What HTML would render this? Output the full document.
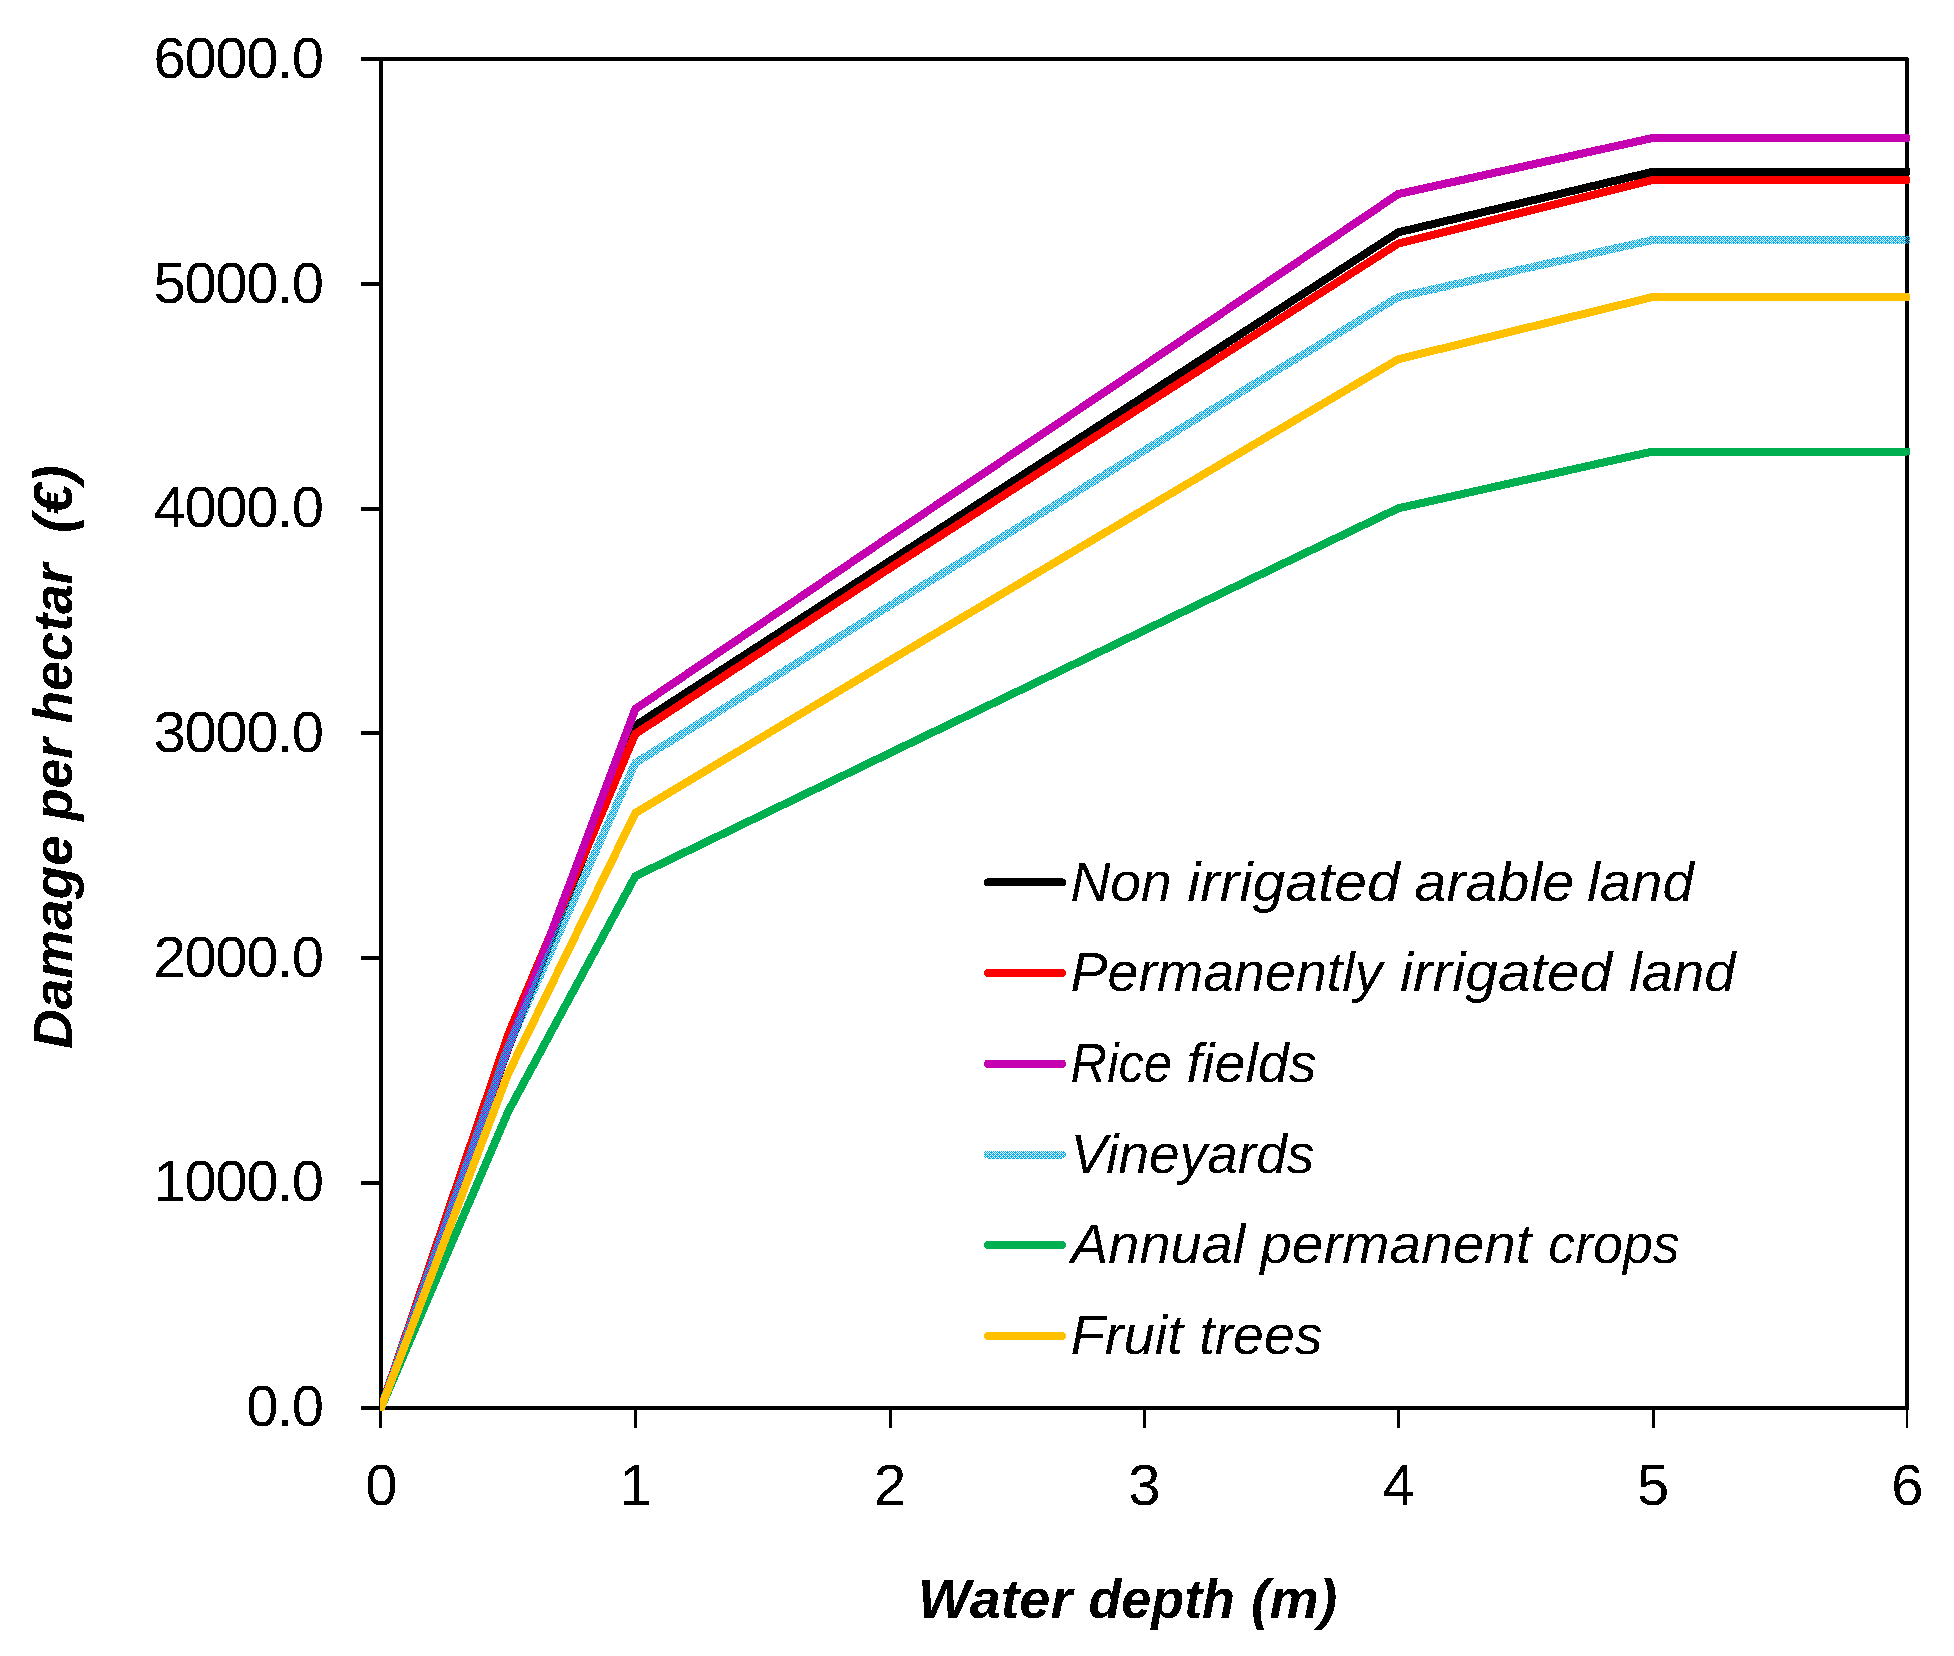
<!DOCTYPE html>
<html lang="en"><head><meta charset="utf-8"><title>Damage per hectar vs water depth</title>
<style>
html,body{margin:0;padding:0;background:#fff}
body{width:1954px;height:1656px;overflow:hidden}
svg{display:block}
text{font-family:"Liberation Sans",sans-serif;fill:#000}
.n{font-size:58px;letter-spacing:-1.4px}
.x{font-size:58px}
.i{font-size:55px;font-style:italic}
.bi{font-size:55px;font-style:italic;font-weight:bold}
</style></head><body>
<svg width="1954" height="1656" viewBox="0 0 1954 1656">
<defs>
<pattern id="chk" x="0" y="0" width="8" height="8" patternUnits="userSpaceOnUse"><g fill="#00B0F0" shape-rendering="crispEdges"><rect x="0" y="0" width="1" height="1"/><rect x="2" y="0" width="1" height="1"/><rect x="4" y="0" width="1" height="1"/><rect x="6" y="0" width="2" height="1"/><rect x="1" y="1" width="1" height="1"/><rect x="3" y="1" width="1" height="1"/><rect x="5" y="1" width="1" height="1"/><rect x="7" y="1" width="1" height="1"/><rect x="0" y="2" width="3" height="1"/><rect x="4" y="2" width="3" height="1"/><rect x="1" y="3" width="1" height="1"/><rect x="3" y="3" width="1" height="1"/><rect x="5" y="3" width="1" height="1"/><rect x="7" y="3" width="1" height="1"/><rect x="0" y="4" width="1" height="1"/><rect x="2" y="4" width="3" height="1"/><rect x="6" y="4" width="2" height="1"/><rect x="1" y="5" width="1" height="1"/><rect x="3" y="5" width="1" height="1"/><rect x="5" y="5" width="1" height="1"/><rect x="7" y="5" width="1" height="1"/><rect x="0" y="6" width="3" height="1"/><rect x="4" y="6" width="3" height="1"/><rect x="1" y="7" width="1" height="1"/><rect x="3" y="7" width="1" height="1"/><rect x="5" y="7" width="1" height="1"/><rect x="7" y="7" width="1" height="1"/></g></pattern>
<filter id="thr" filterUnits="userSpaceOnUse" x="0" y="0" width="1954" height="1656" color-interpolation-filters="sRGB"><feComponentTransfer><feFuncA type="discrete" tableValues="0 1"/></feComponentTransfer></filter>
<clipPath id="plot"><rect x="380" y="56" width="1530" height="1355"/></clipPath>
</defs>
<rect width="1954" height="1656" fill="#fff"/>

<g shape-rendering="crispEdges" fill="#000">
<rect x="379" y="57" width="4" height="1353"/>
<rect x="1905" y="58" width="4" height="1352"/>
<rect x="361" y="57" width="1547" height="4"/>
<rect x="361" y="1406" width="1548" height="4"/>
<rect x="361" y="1181" width="20" height="4"/>
<rect x="361" y="956" width="20" height="4"/>
<rect x="361" y="731" width="20" height="4"/>
<rect x="361" y="507" width="20" height="4"/>
<rect x="361" y="282" width="20" height="4"/>
<rect x="379" y="1408" width="3" height="20"/>
<rect x="634" y="1408" width="3" height="20"/>
<rect x="889" y="1408" width="3" height="20"/>
<rect x="1143" y="1408" width="3" height="20"/>
<rect x="1397" y="1408" width="3" height="20"/>
<rect x="1652" y="1408" width="3" height="20"/>
<rect x="1906" y="1408" width="2" height="20"/>
</g>
<g clip-path="url(#plot)" fill="none" stroke-width="8" stroke-linejoin="round" stroke-linecap="round" shape-rendering="crispEdges">
<polyline points="381.0,1408.0 508.2,1048.5 635.3,725.7 889.7,561.1 1144.0,396.5 1398.3,232.3 1652.7,171.8 1907.0,171.8" stroke="#000000"/>
<polyline points="381.0,1408.0 508.2,1034.5 635.3,733.9 889.7,568.3 1144.0,405.5 1398.3,243.5 1652.7,180.0 1907.0,180.0" stroke="#FF0000"/>
<polyline points="381.0,1408.0 508.2,1047.5 635.3,709.1 889.7,536.4 1144.0,365.7 1398.3,194.0 1652.7,138.0 1907.0,138.0" stroke="#C400B0"/>
<polyline points="381.0,1408.0 508.2,1046.5 635.3,763.0 889.7,605.7 1144.0,450.7 1398.3,297.0 1652.7,240.0 1907.0,240.0" stroke="url(#chk)"/>
<polyline points="381.0,1408.0 508.2,1111.5 635.3,876.3 889.7,753.1 1144.0,630.5 1398.3,508.3 1652.7,451.5 1907.0,451.5" stroke="#00B050"/>
<polyline points="381.0,1408.0 508.2,1073.5 635.3,813.0 889.7,660.6 1144.0,509.5 1398.3,359.2 1652.7,297.0 1907.0,297.0" stroke="#FFC000"/>
</g>
<g filter="url(#thr)">
<text id="yl0" class="n" x="322.60" y="1425.78" text-anchor="end">0.0</text>
<text id="yl1" class="n" x="322.60" y="1201.15" text-anchor="end">1000.0</text>
<text id="yl2" class="n" x="322.60" y="976.52" text-anchor="end">2000.0</text>
<text id="yl3" class="n" x="322.60" y="751.89" text-anchor="end">3000.0</text>
<text id="yl4" class="n" x="322.60" y="527.26" text-anchor="end">4000.0</text>
<text id="yl5" class="n" x="322.60" y="302.63" text-anchor="end">5000.0</text>
<text id="yl6" class="n" x="322.60" y="78.00" text-anchor="end">6000.0</text>
<text id="xl0" class="x" x="381.40" y="1505.00" text-anchor="middle">0</text>
<text id="xl1" class="x" x="635.73" y="1505.00" text-anchor="middle">1</text>
<text id="xl2" class="x" x="890.07" y="1505.00" text-anchor="middle">2</text>
<text id="xl3" class="x" x="1144.40" y="1505.00" text-anchor="middle">3</text>
<text id="xl4" class="x" x="1398.73" y="1505.00" text-anchor="middle">4</text>
<text id="xl5" class="x" x="1653.07" y="1505.00" text-anchor="middle">5</text>
<text id="xl6" class="x" x="1907.40" y="1505.00" text-anchor="middle">6</text>
<line x1="988" y1="882.4" x2="1062" y2="882.4" stroke="#000000" stroke-width="8" stroke-linecap="round" shape-rendering="crispEdges"/>
<text id="lg0" class="i" y="900.80"><tspan x="1070.44" textLength="101.29" lengthAdjust="spacingAndGlyphs">Non</tspan> <tspan x="1187.16" textLength="212.52" lengthAdjust="spacingAndGlyphs">irrigated</tspan> <tspan x="1414.60" textLength="159.50" lengthAdjust="spacingAndGlyphs">arable</tspan> <tspan x="1587.20" textLength="106.57" lengthAdjust="spacingAndGlyphs">land</tspan></text>
<line x1="988" y1="973.1" x2="1062" y2="973.1" stroke="#FF0000" stroke-width="8" stroke-linecap="round" shape-rendering="crispEdges"/>
<text id="lg1" class="i" y="991.45"><tspan x="1070.43" textLength="312.00" lengthAdjust="spacingAndGlyphs">Permanently</tspan> <tspan x="1399.97" textLength="212.32" lengthAdjust="spacingAndGlyphs">irrigated</tspan> <tspan x="1629.31" textLength="106.17" lengthAdjust="spacingAndGlyphs">land</tspan></text>
<line x1="988" y1="1063.8" x2="1062" y2="1063.8" stroke="#C400B0" stroke-width="8" stroke-linecap="round" shape-rendering="crispEdges"/>
<text id="lg2" class="i" y="1082.10"><tspan x="1070.59" textLength="101.28" lengthAdjust="spacingAndGlyphs">Rice</tspan> <tspan x="1186.60" textLength="129.96" lengthAdjust="spacingAndGlyphs">fields</tspan></text>
<line x1="988" y1="1154.5" x2="1062" y2="1154.5" stroke="url(#chk)" stroke-width="8" stroke-linecap="round" shape-rendering="crispEdges"/>
<text id="lg3" class="i" y="1172.75"><tspan x="1070.44" textLength="243.96" lengthAdjust="spacingAndGlyphs">Vineyards</tspan></text>
<line x1="988" y1="1245.2" x2="1062" y2="1245.2" stroke="#00B050" stroke-width="8" stroke-linecap="round" shape-rendering="crispEdges"/>
<text id="lg4" class="i" y="1263.40"><tspan x="1071.07" textLength="174.17" lengthAdjust="spacingAndGlyphs">Annual</tspan> <tspan x="1260.32" textLength="271.29" lengthAdjust="spacingAndGlyphs">permanent</tspan> <tspan x="1548.29" textLength="131.40" lengthAdjust="spacingAndGlyphs">crops</tspan></text>
<line x1="988" y1="1335.9" x2="1062" y2="1335.9" stroke="#FFC000" stroke-width="8" stroke-linecap="round" shape-rendering="crispEdges"/>
<text id="lg5" class="i" y="1354.05"><tspan x="1070.41" textLength="112.57" lengthAdjust="spacingAndGlyphs">Fruit</tspan> <tspan x="1199.28" textLength="123.18" lengthAdjust="spacingAndGlyphs">trees</tspan></text>
<text id="xt" class="bi" y="1617.8"><tspan x="918.04" textLength="154.09" lengthAdjust="spacingAndGlyphs">Water</tspan> <tspan x="1088.43" textLength="146.54" lengthAdjust="spacingAndGlyphs">depth</tspan> <tspan x="1250.98" textLength="86.29" lengthAdjust="spacingAndGlyphs">(m)</tspan></text>
<text id="yt" class="bi" transform="translate(72 1047.9) rotate(-90)" y="0"><tspan x="-1.00" textLength="213.48" lengthAdjust="spacingAndGlyphs">Damage</tspan> <tspan x="227.20" textLength="82.47" lengthAdjust="spacingAndGlyphs">per</tspan> <tspan x="324.53" textLength="159.83" lengthAdjust="spacingAndGlyphs">hectar</tspan>  <tspan x="514.99" textLength="67.62" lengthAdjust="spacingAndGlyphs">(€)</tspan></text>
</g>
</svg></body></html>
